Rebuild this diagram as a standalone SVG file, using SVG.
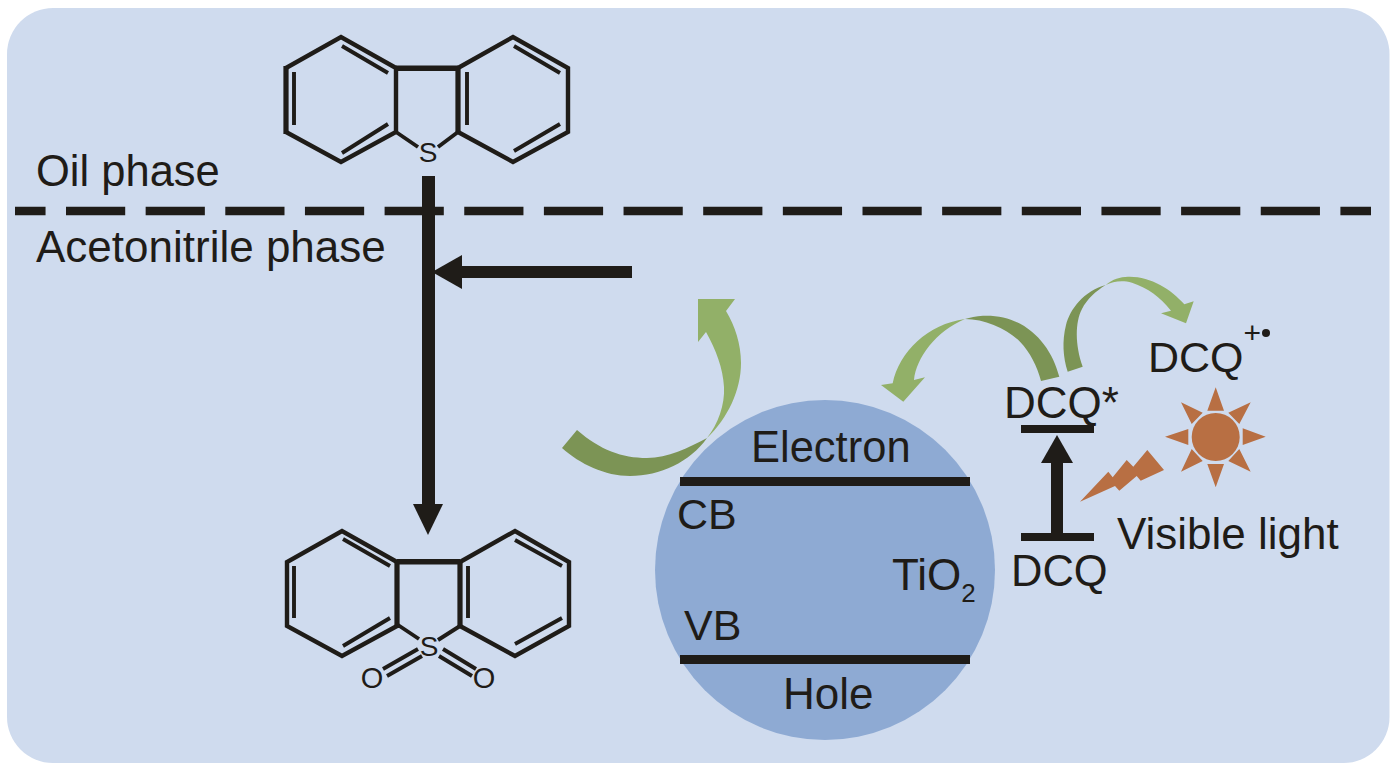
<svg xmlns="http://www.w3.org/2000/svg" width="1399" height="771" viewBox="0 0 1399 771">
<style>
text{font-family:"Liberation Sans",Arial,sans-serif;fill:#1f1c18}
.t{font-size:44px}
.a{font-size:28px}
.o{font-size:29px}
.bond{stroke:#1f1c18;stroke-width:4.4;fill:none}
.heavy{stroke:#1f1c18;stroke-width:5.2;fill:none}
.thin{stroke:#1f1c18;stroke-width:3.9;fill:none}
.ink{fill:#1f1c18}
.dark{fill:#7c9455}
.light{fill:#92b068}
.sun{fill:#b86f43}
</style>
<rect width="1399" height="771" fill="#fff"/>
<rect id="panel" x="7" y="8" width="1382.5" height="755" rx="46" fill="#cfdbee"/>
<g id="connectors">
<path d="M15 211H1371" stroke="#1f1c18" stroke-width="8.3" fill="none" stroke-dasharray="59.2 20.45" stroke-dashoffset="28.65"/>
<rect class="ink" x="422" y="176" width="13" height="330"/>
<path class="ink" d="M413 504H443L428 535Z"/>
<rect class="ink" x="460" y="266" width="172" height="12"/>
<path class="ink" d="M432 272L462 255V289Z"/>
<rect class="ink" x="1051" y="460" width="12" height="75"/>
<path class="ink" d="M1057 435L1073 463H1041Z"/>
<path class="dark" d="M562 448L577 430C600 450 622 458 647 458C668 458 688 448 707 438C690 462 660 476 630 476C605 476 580 464 562 448Z"/>
<path class="light" d="M707 438C718 424 725 405 724 387C723 368 716 350 706 332L698 342V299H735L726 311C735 326 741 344 741 363C741 390 728 418 707 438Z"/>
<path class="dark" d="M1041 381L1059.3 376.7C1051 344 1025 314 983 315.7C976 316 970 317.5 965 319C985 319 1007 329 1020 341.7C1030 352 1037 366 1041 381Z"/>
<path class="light" d="M965 319C928 324 899 352 892.7 383.3L881 385L903.3 401.7L925 377.3L914 380C916 358 936 331 965 319Z"/>
<path class="dark" d="M1067.7 371.7L1082.7 366.7C1075 345 1075 322 1082 309C1087 299 1096 291 1105.7 285C1084 291 1070 309 1066 325C1062 341 1063 357 1067.7 371.7Z"/>
<path class="light" d="M1105.7 285C1113 279 1120 277 1128 276.7C1150 276 1171 289 1184.3 304.3L1193.7 301.3L1186 323.3L1161 313.3L1171 310.7C1160 297 1148 288 1132 282.7C1122 280 1113 281.5 1105.7 285Z"/>
</g>
<g id="dibenzothiophene">
<path class="bond" d="M396 68L341 37L286 68M286 132L341 162L396 132V68M458 68L513 37L568 68V132L513 162L458 132"/>
<path class="heavy" d="M286 66V134M458 66V134"/>
<path class="thin" d="M294 72V125M342 46L388 73M342 153L388 124M467 72V125M514 46L560 73M514 151L560 124M396 132L418 147M458 132L438 147"/>
<rect class="ink" x="396" y="65.500" width="62" height="5.500"/>
<text class="a" x="428" y="162" text-anchor="middle">S</text>
</g>
<g id="sulfone">
<path class="bond" d="M397 562L342 531L287 562V626L342 656L397 626M460 562L515 531L569 562V626L515 656L460 626"/>
<path class="heavy" d="M397 560V628M460 560V628"/>
<path class="thin" d="M294 566V618M343 539L390 566M343 646L390 618M468 566V618M515 540L562 566M515 644L562 618M398 625L419 639M460 626L438 640M383 669L418 649M387 676L422 656M443 649L476 669M439 656L472 676"/>
<rect class="ink" x="397" y="559" width="63" height="5.500"/>
<text class="a" x="429" y="656" text-anchor="middle">S</text>
<text class="o" x="372" y="688" text-anchor="middle">O</text>
<text class="o" x="484" y="688" text-anchor="middle">O</text>
</g>
<g id="phase-labels">
<text class="t" x="36" y="186" style="font-size:43.500px">Oil phase</text>
<text class="t" x="36" y="262">Acetonitrile phase</text>
</g>
<g id="tio2">
<circle cx="825" cy="570" r="170" fill="#8eaad3"/>
<rect class="ink" x="680" y="477" width="290" height="9"/>
<rect class="ink" x="680" y="655" width="290" height="9"/>
<text class="t" x="751" y="462" style="font-size:43.500px">Electron</text>
<text class="t" x="677" y="529" style="font-size:43px">CB</text>
<text class="t" x="684" y="640" style="font-size:43px">VB</text>
<text class="t" x="892" y="590">TiO<tspan font-size="26" dy="12">2</tspan></text>
<text class="t" x="783" y="709">Hole</text>
</g>
<g id="dcq">
<rect class="ink" x="1021" y="425" width="73" height="8"/>
<rect class="ink" x="1021" y="533" width="73" height="8"/>
<text class="t" x="1004" y="418">DCQ*</text>
<text class="t" x="1011" y="586" style="font-size:43.500px">DCQ</text>
<text class="t" x="1148" y="372" style="font-size:43px">DCQ</text>
<text x="1243.500" y="343" font-size="30">+</text>
<circle class="ink" cx="1266" cy="333" r="4"/>
</g>
<g id="sun">
<circle class="sun" cx="1215.700" cy="437" r="24"/>
<path class="sun" d="M1215.700 387.300L1224 410.700H1207.300ZM1265.700 436.700L1242.700 445V428.300ZM1215.700 487.300L1207.300 464H1224ZM1165 436.700L1188.300 429V445ZM1250.700 402.300L1239.300 424L1228.300 412.700ZM1250.700 471.700L1228.300 461L1239.300 449ZM1181 471.700L1191.700 449L1202.700 461ZM1181 402.300L1202.700 412.700L1191.700 424Z"/>
<path class="sun" d="M1080 501.700L1108.300 471.700L1112.700 477.300L1126.700 460L1133.300 466.700L1147.300 450L1164 470L1140.700 480.700L1136.700 476L1119.300 490.700L1115 486Z"/>
<text class="t" x="1117" y="549">Visible light</text>
</g>
</svg>
